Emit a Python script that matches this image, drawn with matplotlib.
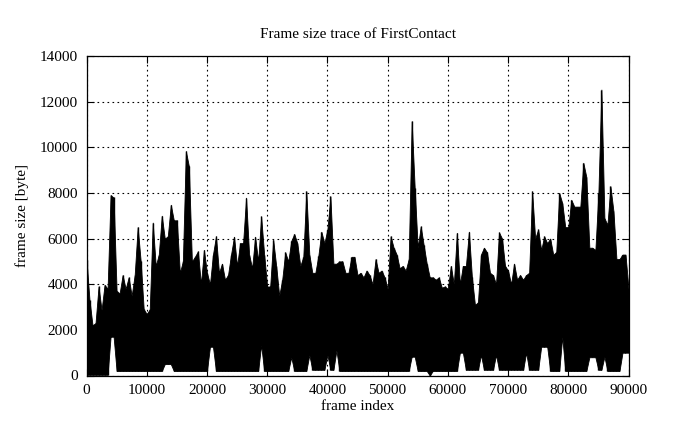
import numpy as np
import matplotlib
matplotlib.use("Agg")
import matplotlib.pyplot as plt

# frame index grid (every 500 frames) and read-off envelope of the trace
frames = np.arange(0, 90001, 500)

upper = [
    5070, 3300, 2200, 2300, 3900, 2870, 3970, 3800, 7900, 7800,
    3700, 3600, 4400, 3800, 4300, 3500, 4400, 6500, 5000, 2900,
    2700, 2900, 6700, 4800, 5300, 7000, 6000, 6100, 7480, 6800,
    6800, 4500, 5000, 9830, 9170, 5000, 5200, 5440, 4000, 5500,
    4500, 4000, 5300, 6100, 4500, 4900, 4200, 4400, 5300, 6080,
    4800, 5800, 5800, 7790, 5300, 4700, 6080, 5000, 6970, 5300,
    3900, 3900, 5950, 4800, 3500, 4200, 5400, 5000, 5900, 6200,
    5800, 4800, 5200, 8070, 5300, 4500, 4500, 5250, 6300, 5800,
    6390, 7850, 4900, 4900, 5000, 5000, 4500, 4500, 5200, 5200,
    4400, 4500, 4300, 4600, 4400, 4000, 5100, 4500, 4600, 4300,
    3800, 6100, 5600, 5300, 4700, 4800, 4600, 5100, 11140, 8200,
    5600, 6530, 5700, 4900, 4300, 4300, 4200, 4300, 3850, 3900,
    3800, 4800, 4000, 6250, 4000, 4800, 4800, 6300, 4300, 3100,
    3200, 5300, 5600, 5400, 4500, 4400, 4000, 6270, 6000, 4800,
    4600, 4000, 4900, 4200, 4400, 4200, 4400, 4500, 8070, 6000,
    6400, 5500, 6100, 5800, 6000, 5300, 5400, 8000, 7550, 6500,
    6500, 7700, 7400, 7400, 7400, 9320, 8700, 5600, 5600, 5500,
    8000, 12530, 6900, 6600, 8290, 7200, 5100, 5100, 5300, 5300,
    3800,
]

lower = [
    30, 30, 30, 30, 30, 30, 30, 30, 1700, 1700,
    200, 200, 200, 200, 200, 200, 200, 200, 200, 200,
    200, 200, 200, 200, 200, 200, 500, 500, 500, 200,
    200, 200, 200, 200, 200, 200, 200, 200, 200, 200,
    200, 1260, 1260, 200, 200, 200, 200, 200, 200, 200,
    200, 200, 200, 200, 200, 200, 200, 200, 1340, 200,
    200, 200, 200, 200, 200, 200, 200, 200, 800, 200,
    200, 200, 200, 200, 900, 250, 250, 250, 250, 250,
    900, 250, 250, 1100, 200, 200, 200, 200, 200, 200,
    200, 200, 200, 200, 200, 200, 200, 200, 200, 200,
    200, 200, 200, 200, 200, 200, 200, 200, 825, 825,
    200, 200, 200, 200, 0, 200, 200, 200, 200, 200,
    200, 200, 200, 200, 1000, 1000, 250, 250, 250, 250,
    250, 900, 250, 250, 250, 250, 900, 250, 250, 250,
    250, 250, 250, 250, 250, 250, 1000, 250, 250, 250,
    250, 1260, 1260, 1260, 200, 200, 200, 200, 1700, 200,
    200, 200, 200, 200, 200, 200, 200, 800, 800, 800,
    250, 250, 825, 200, 200, 200, 200, 200, 1000, 1000,
    1000,
]

xticks = list(range(0, 90001, 10000))
yticks = list(range(0, 14001, 2000))

plt.rcParams['font.family'] = ['Liberation Serif', 'DejaVu Serif']

fig = plt.figure(figsize=(6.95, 4.29), dpi=100)
ax = fig.add_axes([86.5 / 695, 1 - 375.5 / 429, 542 / 695, 319.5 / 429])

ax.fill_between(frames, lower, upper, color='black', linewidth=0.6,
                edgecolor='black', zorder=3)
ax.vlines(frames, lower, upper, color='black', linewidth=1.0, zorder=3)

ax.set_xlim(0, 90000)
ax.set_ylim(0, 14000)
ax.set_xticks(xticks)
ax.set_yticks(yticks)
ax.tick_params(direction='in', top=True, right=True, length=5, width=0.8,
               labelsize=11, colors='black', pad=6)
ax.grid(True, color='black', linestyle=(0, (1.5, 3)), linewidth=0.8, zorder=1)
for s in ax.spines.values():
    s.set_linewidth(0.9)
    s.set_zorder(5)

ax.set_title('Frame size trace of FirstContact', fontsize=11, pad=13)
ax.set_xlabel('frame index', fontsize=11, labelpad=2)
ax.set_ylabel('frame size [byte]', fontsize=11, labelpad=8)

fig.savefig('out.png', dpi=100)
